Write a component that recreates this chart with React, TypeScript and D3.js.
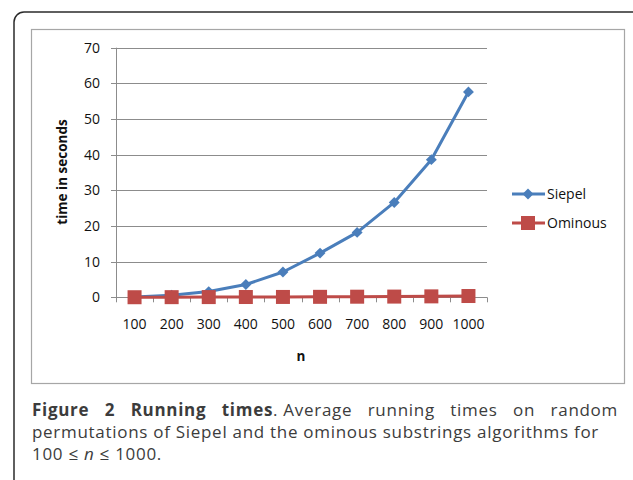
import React, {useEffect, useRef} from 'react';
import * as d3 from 'd3';

// chart data
const categories: string[] = ['100', '200', '300', '400', '500', '600', '700', '800', '900', '1000'];
const siepelTimes: number[] = [0.1, 0.6, 1.6, 3.6, 7.1, 12.4, 18.2, 26.6, 38.6, 57.6];
const ominousTimes: number[] = [0.02, 0.04, 0.06, 0.08, 0.1, 0.13, 0.17, 0.2, 0.26, 0.36];
const yTicks: number[] = [0, 10, 20, 30, 40, 50, 60, 70];
const seriesNames: string[] = ['Siepel', 'Ominous'];

const App = () => {
  const ref = useRef<SVGSVGElement>(null);

  useEffect(() => {
    drawChart();
    return () => {
      d3.select(ref.current).selectAll('*').remove();
    };
  }, []);

  const drawChart = () => {
    const svg = d3.select(ref.current);
    const chartFont = "'Open Sans', sans-serif";
    const blue = '#4A7EBB';
    const red = '#BE4B48';

    // outer rounded frame, runs off the right and bottom edges
    svg.append('rect')
      .attr('x', 14).attr('y', 12)
      .attr('width', 640).attr('height', 520)
      .attr('rx', 10).attr('ry', 10)
      .attr('fill', 'none')
      .attr('stroke', '#2b2b2b')
      .attr('stroke-width', 1.5);

    // chart box
    svg.append('rect')
      .attr('x', 31.5).attr('y', 29.5)
      .attr('width', 593).attr('height', 354)
      .attr('fill', 'white')
      .attr('stroke', '#a6a6a6')
      .attr('stroke-width', 1.2);

    // plot area
    const plot = {left: 116, right: 487, top: 47.7, bottom: 297.3};

    const x = d3.scaleBand<string>()
      .domain(categories)
      .range([plot.left, plot.right]);

    const y = d3.scaleLinear()
      .domain([0, 70])
      .range([plot.bottom, plot.top]);

    const g = svg.append('g');

    // gridlines
    g.selectAll('.grid')
      .data(yTicks)
      .enter().append('line')
      .attr('x1', plot.left - 5)
      .attr('x2', plot.right)
      .attr('y1', d => Math.round(y(d)) + 0.5)
      .attr('y2', d => Math.round(y(d)) + 0.5)
      .attr('stroke', '#8c8c8c')
      .attr('stroke-width', 1);

    // y axis line
    g.append('line')
      .attr('x1', plot.left + 0.5).attr('x2', plot.left + 0.5)
      .attr('y1', plot.top).attr('y2', plot.bottom)
      .attr('stroke', '#8c8c8c');

    // x tick marks at category boundaries
    const boundaries = categories.map(c => x(c) as number).concat([plot.right]);
    g.selectAll('.xtick')
      .data(boundaries)
      .enter().append('line')
      .attr('x1', d => Math.round(d) + 0.5)
      .attr('x2', d => Math.round(d) + 0.5)
      .attr('y1', plot.bottom)
      .attr('y2', plot.bottom + 5)
      .attr('stroke', '#8c8c8c');

    // y tick labels
    g.selectAll('.ylab')
      .data(yTicks)
      .enter().append('text')
      .attr('x', 100)
      .attr('y', d => y(d) + 5)
      .attr('text-anchor', 'end')
      .attr('font-family', chartFont)
      .attr('font-size', '14px')
      .attr('fill', '#111')
      .text(d => d);

    // x tick labels
    g.selectAll('.xlab')
      .data(categories)
      .enter().append('text')
      .attr('x', d => (x(d) as number) + x.bandwidth() / 2)
      .attr('y', 329)
      .attr('text-anchor', 'middle')
      .attr('font-family', chartFont)
      .attr('font-size', '14px')
      .attr('fill', '#111')
      .text(d => d);

    // axis titles
    g.append('text')
      .attr('x', 301)
      .attr('y', 361)
      .attr('text-anchor', 'middle')
      .attr('font-family', chartFont)
      .attr('font-size', '13.5px')
      .attr('font-weight', 'bold')
      .attr('fill', '#111')
      .text('n');

    g.append('text')
      .attr('transform', 'translate(67,172) rotate(-90)')
      .attr('text-anchor', 'middle')
      .attr('font-family', chartFont)
      .attr('font-size', '13.5px')
      .attr('font-weight', 'bold')
      .attr('fill', '#111')
      .text('time in seconds');

    const cx = (c: string) => (x(c) as number) + x.bandwidth() / 2;
    const line = d3.line<[string, number]>()
      .x(d => cx(d[0]))
      .y(d => y(d[1]));

    const diamond = d3.symbol().type(d3.symbolDiamond2).size(76);

    // Siepel
    const siepel: [string, number][] = categories.map((c, i) => [c, siepelTimes[i]]);
    g.append('path')
      .attr('d', line(siepel))
      .attr('fill', 'none')
      .attr('stroke', blue)
      .attr('stroke-width', 3)
      .attr('stroke-linejoin', 'round');
    g.selectAll('.sp')
      .data(siepel)
      .enter().append('path')
      .attr('d', diamond)
      .attr('transform', d => `translate(${cx(d[0])},${y(d[1])})`)
      .attr('fill', blue);

    // Ominous
    const ominous: [string, number][] = categories.map((c, i) => [c, ominousTimes[i]]);
    g.append('path')
      .attr('d', line(ominous))
      .attr('fill', 'none')
      .attr('stroke', red)
      .attr('stroke-width', 3);
    g.selectAll('.om')
      .data(ominous)
      .enter().append('rect')
      .attr('x', d => cx(d[0]) - 7)
      .attr('y', d => y(d[1]) - 7)
      .attr('width', 14)
      .attr('height', 14)
      .attr('fill', red);

    // legend
    const legendY = [194, 223];
    const colors = [blue, red];
    seriesNames.forEach((name, i) => {
      const ly = legendY[i];
      g.append('line')
        .attr('x1', 512).attr('x2', 545)
        .attr('y1', ly).attr('y2', ly)
        .attr('stroke', colors[i])
        .attr('stroke-width', 3);
      if (i === 0) {
        g.append('path')
          .attr('d', diamond)
          .attr('transform', `translate(528,${ly})`)
          .attr('fill', colors[i]);
      } else {
        g.append('rect')
          .attr('x', 521).attr('y', ly - 7)
          .attr('width', 14).attr('height', 14)
          .attr('fill', colors[i]);
      }
      g.append('text')
        .attr('x', 547)
        .attr('y', ly + 5)
        .attr('font-family', chartFont)
        .attr('font-size', '14px')
        .attr('fill', '#111')
        .text(name);
    });

    // caption
    const capFont = "'Open Sans', sans-serif";
    const capColor = '#3c3c3c';
    const capSize = 17;
    const capLeft = 32;
    const capRight = 618;
    const line2Right = 599;

    const addCap = (yy: number) => g.append('text')
      .attr('x', capLeft)
      .attr('y', yy)
      .attr('font-family', capFont)
      .attr('font-size', capSize + 'px')
      .attr('fill', capColor);

    // second line sets the tracking of the caption font
    const line2Text = 'permutations of Siepel and the ominous substrings algorithms for';
    const line2 = addCap(438).text(line2Text);
    const w2 = (line2.node() as SVGTextElement).getComputedTextLength();
    const tracking = (line2Right - capLeft - w2) / line2Text.length;
    line2.attr('letter-spacing', tracking);

    // first line is justified: lay out words and spread the gaps
    const words: {t: string, bold: boolean}[] = [
      {t: 'Figure', bold: true}, {t: '2', bold: true}, {t: 'Running', bold: true}, {t: 'times', bold: true},
      {t: '. Average', bold: false}, {t: 'running', bold: false}, {t: 'times', bold: false},
      {t: 'on', bold: false}, {t: 'random', bold: false}
    ];
    const wordNodes = words.map(w => addCap(416)
      .attr('font-weight', w.bold ? 'bold' : 'normal')
      .attr('letter-spacing', tracking)
      .text(w.t));
    const widths = wordNodes.map(n => (n.node() as SVGTextElement).getComputedTextLength());
    // ". Average" attaches to "times" with no gap
    const gapCount = words.length - 2;
    const total = widths.reduce((a, b) => a + b, 0);
    const gap = (capRight - capLeft - total) / gapCount;
    let cursor = capLeft;
    wordNodes.forEach((n, i) => {
      n.attr('x', cursor);
      cursor += widths[i];
      if (i !== 3) cursor += gap;
    });

    const last = addCap(460).attr('letter-spacing', tracking);
    last.append('tspan').text('100 \u2264 ');
    last.append('tspan').attr('font-style', 'italic').text('n');
    last.append('tspan').text(' \u2264 1000.');
  };

  return (
    <svg ref={ref} width={633} height={480} style={{position: 'absolute', left: 0, top: 0, background: 'white'}} />
  );
};

export default App;
